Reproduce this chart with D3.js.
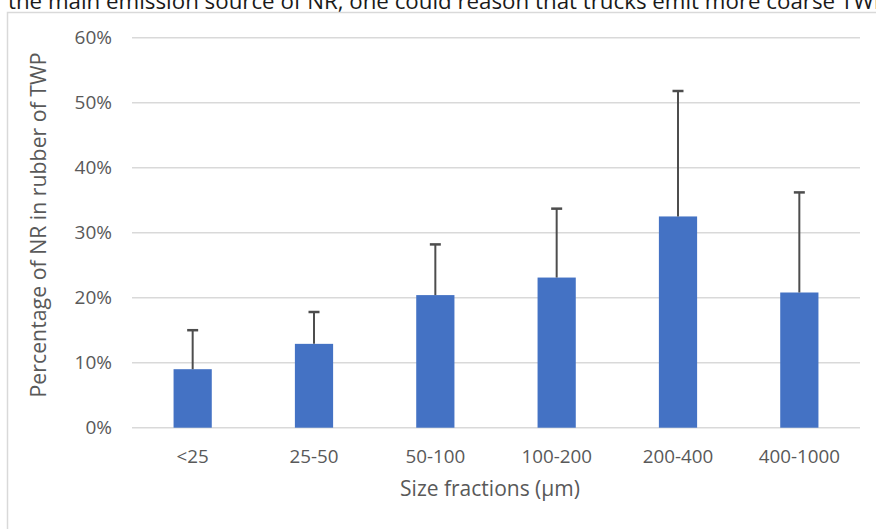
<!DOCTYPE html>
<html>
<head>
<meta charset="utf-8">
<script src="https://cdn.jsdelivr.net/npm/d3@7"></script>
<style>
  html, body { margin: 0; padding: 0; background: #ffffff; }
  svg { display: block; }
</style>
</head>
<body>
<svg id="chart" width="876" height="529"></svg>
<script>
// Share of natural rubber (NR) in the rubber of tyre wear particles, by size fraction
const categories = ["<25", "25-50", "50-100", "100-200", "200-400", "400-1000"];
const meanShare  = [0.090, 0.129, 0.204, 0.231, 0.325, 0.208];
const errorPlus  = [0.060, 0.049, 0.078, 0.106, 0.193, 0.154];
const yTicks     = [0, 0.1, 0.2, 0.3, 0.4, 0.5, 0.6];

const svg = d3.select("#chart");
const plot = { left: 132, right: 860, top: 37.7, bottom: 427.7 };
const textColor = "#595959";
const font = "'Open Sans', 'Noto Sans', sans-serif";

// Running text of the surrounding page, cut by the top edge
svg.append("text")
  .attr("x", 8).attr("y", 8.5)
  .attr("font-family", font).attr("font-size", 22.3)
  .attr("fill", "#1a1a1a")
  .text("the main emission source of NR, one could reason that trucks emit more coarse TWP");

// Chart frame
svg.append("rect")
  .attr("x", 7.5).attr("y", 12.5)
  .attr("width", 900).attr("height", 600)
  .attr("fill", "#ffffff")
  .attr("stroke", "#d9d9d9").attr("stroke-width", 1.5);

const x = d3.scaleBand()
  .domain(categories)
  .range([plot.left, plot.right])
  .paddingInner(0.685)
  .paddingOuter(0.3425);

const y = d3.scaleLinear()
  .domain([0, 0.6])
  .range([plot.bottom, plot.top]);

// Horizontal gridlines
svg.append("g")
  .selectAll("line")
  .data(yTicks)
  .join("line")
  .attr("x1", plot.left).attr("x2", plot.right)
  .attr("y1", d => y(d)).attr("y2", d => y(d))
  .attr("stroke", "#d9d9d9").attr("stroke-width", 1.5);

// Y axis labels
const yAxis = d3.axisLeft(y)
  .tickValues(yTicks)
  .tickFormat(d3.format(".0%"))
  .tickSize(0)
  .tickPadding(0);
const gy = svg.append("g")
  .attr("transform", `translate(${plot.left - 20},0)`)
  .call(yAxis);
gy.select(".domain").remove();
gy.selectAll("text")
  .attr("font-family", font).attr("font-size", 19)
  .attr("fill", textColor);

// X axis labels
const xAxis = d3.axisBottom(x).tickSize(0).tickPadding(0);
const gx = svg.append("g")
  .attr("transform", `translate(0,${plot.bottom + 22})`)
  .call(xAxis);
gx.select(".domain").remove();
gx.selectAll("text")
  .attr("font-family", font).attr("font-size", 18.8)
  .attr("fill", textColor);

// Bars
svg.append("g")
  .selectAll("rect")
  .data(categories)
  .join("rect")
  .attr("x", d => x(d))
  .attr("width", x.bandwidth())
  .attr("y", (d, i) => y(meanShare[i]))
  .attr("height", (d, i) => y(0) - y(meanShare[i]))
  .attr("fill", "#4472c4");

// Plus-direction error bars
const err = svg.append("g")
  .attr("stroke", "#4d4d4d").attr("stroke-width", 2);
categories.forEach((c, i) => {
  const cx = x(c) + x.bandwidth() / 2;
  const top = y(meanShare[i] + errorPlus[i]);
  err.append("line")
    .attr("x1", cx).attr("x2", cx)
    .attr("y1", y(meanShare[i])).attr("y2", top);
  err.append("line")
    .attr("x1", cx - 5.5).attr("x2", cx + 5.5)
    .attr("y1", top).attr("y2", top)
    .attr("stroke-width", 2.5);
});

// Axis titles
svg.append("text")
  .attr("transform", `translate(46,225) rotate(-90)`)
  .attr("text-anchor", "middle")
  .attr("font-family", font).attr("font-size", 21.3)
  .attr("fill", textColor)
  .text("Percentage of NR in rubber of TWP");

svg.append("text")
  .attr("x", 490).attr("y", 496)
  .attr("text-anchor", "middle")
  .attr("font-family", font).attr("font-size", 21)
  .attr("fill", textColor)
  .text("Size fractions (µm)");
</script>
</body>
</html>
